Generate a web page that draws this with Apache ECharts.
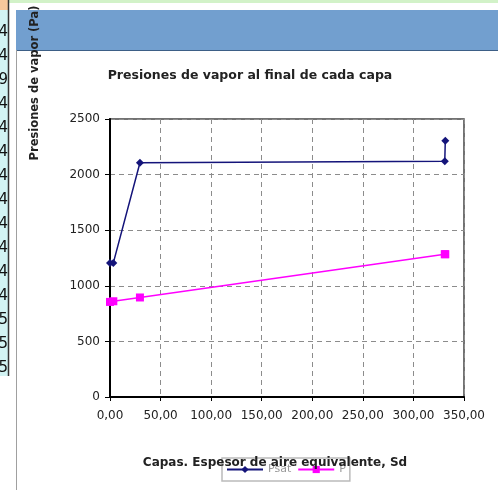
<!DOCTYPE html>
<html>
<head>
<meta charset="utf-8">
<script src="https://cdn.jsdelivr.net/npm/echarts@6/dist/echarts.min.js"></script>
<style>
html,body{margin:0;padding:0;background:#fff;}
#c{width:498px;height:490px;}
</style>
</head>
<body>
<div id="c"></div>
<script>
// Data
const sd = [0, 3.3, 29.6, 331, 331.5];          // Espesor de aire equivalente, Sd
const psat = [1206, 1206, 2107, 2120, 2305];     // Psat (Pa)
const p = [855, 861, 895, 1284, 1284];           // P (Pa)
const yTicks = [0, 500, 1000, 1500, 2000, 2500];
const xTicks = [0, 50, 100, 150, 200, 250, 300, 350];
const sideDigits = ['4','4','9','4','4','4','4','4','4','4','4','4','5','5','5'];

const chart = echarts.init(document.getElementById('c'), null, {renderer: 'canvas'});
const FONT = 'DejaVu Sans';

const graphics = [
  {type:'rect', shape:{x:0,y:0,width:498,height:3}, style:{fill:'#d2f2c8'}, z:0, silent:true},
  {type:'rect', shape:{x:16,y:10,width:482,height:40}, style:{fill:'#729fcf'}, z:0, silent:true},
  {type:'line', shape:{x1:16,y1:50.5,x2:498,y2:50.5}, style:{stroke:'#3d5f86',lineWidth:1}, z:1, silent:true},
  {type:'rect', shape:{x:0,y:0,width:8,height:10}, style:{fill:'#f7c89c'}, z:0, silent:true},
  {type:'rect', shape:{x:0,y:10,width:8,height:366}, style:{fill:'#d2f3f3'}, z:0, silent:true},
  {type:'line', shape:{x1:8.5,y1:0,x2:8.5,y2:376}, style:{stroke:'#333',lineWidth:1.5}, z:1, silent:true},
  {type:'line', shape:{x1:16.5,y1:50,x2:16.5,y2:490}, style:{stroke:'#a0a0a0',lineWidth:1}, z:1, silent:true},
  {type:'text', x:35, y:83, rotation:Math.PI/2, z:10, silent:true,
    style:{text:'Presiones de vapor (Pa)', fill:'#222', font:'bold 11.5px "'+FONT+'"', textAlign:'center', textVerticalAlign:'middle'}},
  {type:'text', x:250, y:76, z:10, silent:true,
    style:{text:'Presiones de vapor al final de cada capa', fill:'#222', font:'bold 12.5px "'+FONT+'"', textAlign:'center', textVerticalAlign:'middle'}},
  {type:'text', x:275, y:463, z:100, silent:true,
    style:{text:'Capas. Espesor de aire equivalente, Sd', fill:'#222', font:'bold 12px "'+FONT+'"', textAlign:'center', textVerticalAlign:'middle'}}
];
sideDigits.forEach(function(d, i){
  graphics.push({type:'text', x:8, y:32 + i*24, z:2, silent:true,
    style:{text:d, fill:'#111', font:'15px "'+FONT+'"', textAlign:'right', textVerticalAlign:'middle'}});
});

const option = {
  animation:false,
  backgroundColor:'#ffffff',
  grid:{left:110, right:34, top:119, bottom:93, show:true, borderColor:'#444', borderWidth:1.5},
  legend:{
    left:222, top:458,
    padding:[6,4,6,4],
    borderColor:'#bbb', borderWidth:1.5, backgroundColor:'transparent',
    itemWidth:36, itemHeight:9, itemGap:6,
    textStyle:{color:'#999', fontFamily:FONT, fontSize:11},
    data:['Psat','P'],
    z:5
  },
  xAxis:{
    type:'value', min:0, max:350, interval:50,
    axisLine:{show:true, onZero:false, lineStyle:{color:'#000', width:2}},
    axisTick:{show:true, length:4, lineStyle:{color:'#000'}},
    axisLabel:{margin:13, color:'#222', fontFamily:FONT, fontSize:12,
      formatter:function(v){ return v.toFixed(2).replace('.', ','); }},
    splitLine:{show:true, lineStyle:{color:'#8c8c8c', type:[5,4], width:1}}
  },
  yAxis:{
    type:'value', min:0, max:2500, interval:500,
    axisLine:{show:true, lineStyle:{color:'#000', width:2}},
    axisTick:{show:true, length:5, lineStyle:{color:'#000'}},
    axisLabel:{margin:10, color:'#222', fontFamily:FONT, fontSize:12,
      formatter:function(v){ return String(v); }},
    splitLine:{show:true, lineStyle:{color:'#8c8c8c', type:[5,4], width:1}}
  },
  graphic:graphics,
  series:[
    {name:'Psat', type:'line', data:sd.map(function(x,i){return [x, psat[i]];}),
      symbol:'diamond', symbolSize:8, showAllSymbol:true,
      lineStyle:{color:'#14147a', width:1.5}, itemStyle:{color:'#14147a'}, z:4},
    {name:'P', type:'line', data:sd.map(function(x,i){return [x, p[i]];}),
      symbol:'rect', symbolSize:8, showAllSymbol:true,
      lineStyle:{color:'#ff00ff', width:1.5}, itemStyle:{color:'#ff00ff'}, z:4}
  ]
};
chart.setOption(option);
</script>
</body>
</html>
